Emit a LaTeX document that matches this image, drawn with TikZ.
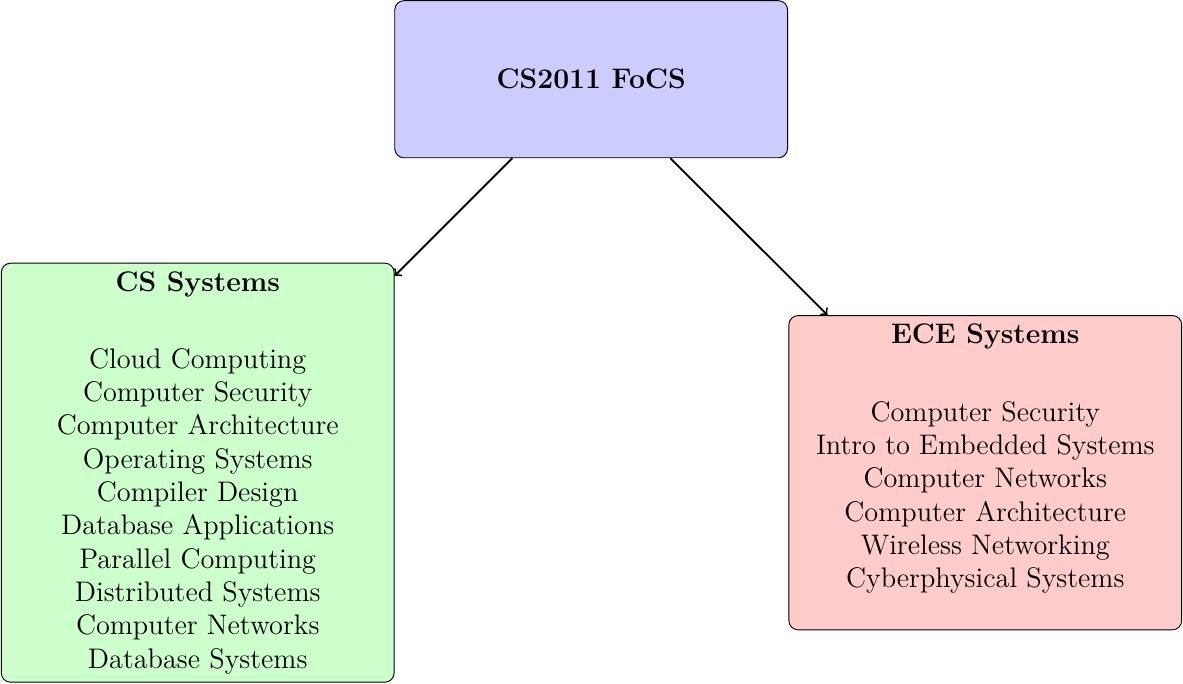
\documentclass[tikz,border=0pt]{standalone}
\usepackage{amsmath}
\usepackage{xcolor}
\usepackage{tikz}
\usetikzlibrary{shapes,arrows,positioning}
\tikzstyle{course} = [draw=black, rectangle, rounded corners, minimum width=6cm,
    align=center, font=\fontsize{12.3}{14.5}\selectfont]
\tikzstyle{arrow} = [thick,->]
\begin{document}
\begin{tikzpicture}
\useasboundingbox (0,0) rectangle (18.07,-10.44);
\node [course, fill=blue!20, minimum height=2.4cm] (focs) at (9.03,-1.21) {\textbf{CS2011 FoCS}};
\node [course, fill=green!20, minimum height=6.4cm] (cs) at (3.02,-7.22) {%
    \textbf{CS Systems}\\[19pt]
    Cloud Computing\\
    Computer Security\\
    Computer Architecture\\
    Operating Systems\\
    Compiler Design\\
    Database Applications\\
    Parallel Computing\\
    Distributed Systems\\
    Computer Networks\\
    Database Systems};
\node [course, fill=red!20, minimum height=4.8cm] (ece) at (15.05,-7.22) {%
    \textbf{ECE Systems}\\[19pt]
    Computer Security\\
    Intro to Embedded Systems\\
    Computer Networks\\
    Computer Architecture\\
    Wireless Networking\\
    Cyberphysical Systems\\
    \mbox{}};
\draw [arrow] (focs) -- (cs);
\draw [arrow] (focs) -- (ece);
\end{tikzpicture}
\end{document}
